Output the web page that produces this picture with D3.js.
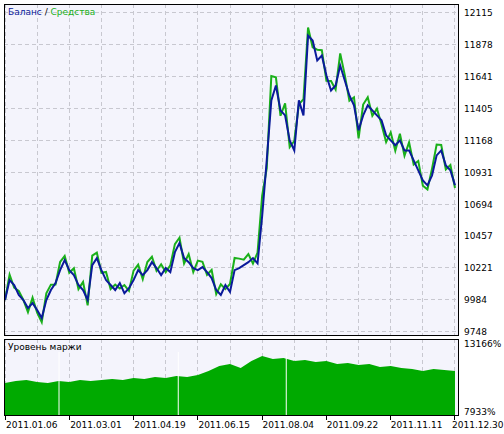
<!DOCTYPE html><html><head><meta charset="utf-8"><script src="https://cdn.jsdelivr.net/npm/d3@7"></script>
<style>body{margin:0;background:#fff}svg{display:block}</style></head><body><svg id="c" width="504" height="434"></svg>
<script>
const balance=[9978,10126,10089,10015,9978,9918,9955,9904,9844,9978,10052,10103,10200,10274,10200,10163,10089,10052,9978,10237,10289,10200,10126,10089,10052,10103,10029,10066,10126,10200,10163,10200,10259,10215,10163,10215,10185,10333,10400,10289,10259,10215,10200,10222,10185,10141,10052,10015,10089,10037,10200,10215,10237,10259,10289,10250,10600,11014,11459,11570,11385,11348,11162,11088,11459,11348,11940,11903,11755,11792,11644,11533,11570,11718,11607,11496,11422,11237,11348,11422,11385,11348,11311,11200,11162,11126,11162,11088,11088,11014,10940,10866,10829,10903,11051,11088,10977,10940,10829];
const equityDev=[0,40,-20,30,0,-30,40,-20,-30,50,40,-10,60,30,-20,50,-30,60,-40,70,40,-20,60,-30,40,-40,60,-20,70,40,-30,60,40,-20,80,-30,50,60,40,-40,60,-30,70,40,-20,60,-30,80,-30,60,90,70,40,60,-40,80,150,-60,180,60,-40,90,-50,70,-30,120,60,-50,80,40,-40,70,-30,90,40,-40,60,-60,80,60,-40,50,-30,-50,60,-40,50,-40,60,-30,70,-40,-30,50,80,40,-30,40,-20];
const margin=[10086,10240,10317,10163,10086,10240,10163,10317,10240,10317,10393,10317,10470,10393,10547,10470,10624,10547,10700,11009,11394,11548,11240,11779,12164,11933,12010,11779,11856,11702,11779,11548,11625,11471,11548,11317,11394,11240,11163,11009,11163,11086,11009];
const marginGaps=[0.12,0.385,0.625];
const yTicks=[9748,9984,10221,10457,10694,10931,11168,11405,11641,11878,12115];
const dateLabels=["2011.01.06","2011.03.01","2011.04.19","2011.06.15","2011.08.04","2011.09.22","2011.11.11","2011.12.30"];
const svg=d3.select("#c");const F="DejaVu Sans";
svg.append("rect").attr("width",504).attr("height",434).attr("fill","#fff");
const L=4,R=459,T=4,B=336,MT=339,MB=416;
svg.append("rect").attr("x",L).attr("y",T).attr("width",R-L).attr("height",B-T).attr("fill","#f4f4fc");
svg.append("rect").attr("x",L).attr("y",MT).attr("width",R-L).attr("height",MB-MT).attr("fill","#f4f4fc");
const y=d3.scaleLinear().domain([9748,12115]).range([331,12]);
const x=d3.scaleLinear().domain([0,balance.length-1]).range([5,455]);
const gx=d3.scaleLinear().domain([0,dateLabels.length-1]).range([5,454]);
const grid=d3.range(0,7.01,0.5).map(v=>gx(v));
const g=svg.append("g").attr("stroke","#c8c8d0").attr("stroke-dasharray","4,3");
yTicks.forEach(t=>g.append("line").attr("x1",L).attr("x2",R).attr("y1",Math.round(y(t))+.5).attr("y2",Math.round(y(t))+.5));
grid.forEach(px=>{g.append("line").attr("x1",Math.round(px)+.5).attr("x2",Math.round(px)+.5).attr("y1",T).attr("y2",B);
 g.append("line").attr("x1",Math.round(px)+.5).attr("x2",Math.round(px)+.5).attr("y1",MT).attr("y2",MB);});
const eq=balance.map((b,i)=>b+equityDev[i]);
const line=d3.line().x((d,i)=>x(i)).y(d=>y(d));
svg.append("path").attr("d",line(eq)).attr("fill","none").attr("stroke","#1ab01a").attr("stroke-width",2);
svg.append("path").attr("d",line(balance)).attr("fill","none").attr("stroke","#0a1a9a").attr("stroke-width",2);
const my=d3.scaleLinear().domain([7933,13166]).range([411,343]);
const mx=d3.scaleLinear().domain([0,margin.length-1]).range([5,455]);
svg.append("path").attr("d",d3.area().x((d,i)=>mx(i)).y0(MB).y1(d=>my(d))(margin)).attr("fill","#00aa00");
marginGaps.forEach(f=>svg.append("line").attr("x1",5+f*450).attr("x2",5+f*450).attr("y1",352).attr("y2",MB).attr("stroke","#fff"));
svg.append("rect").attr("x",L+.5).attr("y",T+.5).attr("width",R-L-1).attr("height",B-T-1).attr("fill","none").attr("stroke","#000");
svg.append("rect").attr("x",L+.5).attr("y",MT+.5).attr("width",R-L-1).attr("height",MB-MT-1).attr("fill","none").attr("stroke","#000");
const tx=svg.append("g").attr("font-family",F).attr("font-size",9);
yTicks.forEach(t=>tx.append("text").attr("x",464).attr("y",y(t)+4).text(t));
tx.append("text").attr("x",464).attr("y",347).text("13166%");
tx.append("text").attr("x",464).attr("y",415).text("7933%");
dateLabels.forEach((d,i)=>{const px=gx(i);svg.append("line").attr("x1",Math.round(px)+.5).attr("x2",Math.round(px)+.5).attr("y1",MB).attr("y2",MB+4).attr("stroke","#000");
 tx.append("text").attr("x",Math.min(px+1,452)).attr("y",428).text(d);});
const lg=tx.append("text").attr("x",8).attr("y",15);
lg.append("tspan").attr("fill","#0a1a9a").text("Баланс");lg.append("tspan").attr("fill","#000").text(" / ");lg.append("tspan").attr("fill","#1ab01a").text("Средства");
tx.append("text").attr("x",8).attr("y",350).text("Уровень маржи");
</script></body></html>
